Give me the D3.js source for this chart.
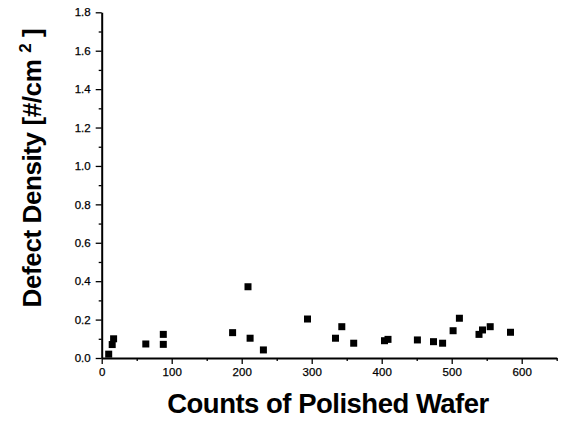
<!DOCTYPE html>
<html>
<head>
<meta charset="utf-8">
<script src="https://cdnjs.cloudflare.com/ajax/libs/d3/7.8.5/d3.min.js"></script>
<style>
body { margin: 0; background: #fff; }
text { font-family: "Liberation Sans", Arial, sans-serif; }
</style>
</head>
<body>
<script>
// wafer count vs defect density
var counts  = [10, 15, 17, 63, 88, 88, 187, 209, 212, 231, 294, 334, 343, 360, 404, 409, 451, 474, 487, 502, 511, 539, 544, 555, 584];
var density = [0.02, 0.07, 0.10, 0.073, 0.123, 0.071, 0.132, 0.371, 0.103, 0.042, 0.203, 0.103, 0.163, 0.077, 0.09, 0.097, 0.094, 0.085, 0.077, 0.142, 0.207, 0.123, 0.146, 0.163, 0.134];
var xTicks = [0, 100, 200, 300, 400, 500, 600];
var yTicks = [0.0, 0.2, 0.4, 0.6, 0.8, 1.0, 1.2, 1.4, 1.6, 1.8];

var data = counts.map(function (c, i) { return { count: c, density: density[i] }; });

var margin = { top: 12.3, right: 7.3, bottom: 64, left: 101.7 },
    width = 564 - margin.left - margin.right,
    height = 422 - margin.top - margin.bottom;

var svg = d3.select("body")
    .append("svg")
    .attr("width", 564)
    .attr("height", 422);

var g = svg.append("g").attr("transform", "translate(" + margin.left + "," + margin.top + ")");

var x = d3.scaleLinear().domain([0, 650]).range([0, width]),
    y = d3.scaleLinear().domain([0, 1.8]).range([height, 0]);

// minor ticks first
g.append("g")
    .attr("transform", "translate(0," + height + ")")
    .call(d3.axisBottom(x).tickValues(d3.range(50, 651, 100)).tickSize(3).tickFormat(""))
    .call(function (a) { a.select(".domain").remove(); });

g.append("g")
    .call(d3.axisLeft(y).tickValues(d3.range(0.1, 1.8, 0.2)).tickSize(3).tickFormat(""))
    .call(function (a) { a.select(".domain").remove(); });

var xAxis = g.append("g")
    .attr("transform", "translate(0," + height + ")")
    .call(d3.axisBottom(x).tickValues(xTicks).tickSize(6).tickSizeOuter(0).tickPadding(4).tickFormat(d3.format("d")));

var yAxis = g.append("g")
    .call(d3.axisLeft(y).tickValues(yTicks).tickSize(6).tickSizeOuter(0).tickPadding(5).tickFormat(d3.format(".1f")));

[xAxis, yAxis].forEach(function (a) {
    a.selectAll("text").attr("font-size", 11.5).attr("font-family", "Liberation Sans, Arial, sans-serif").attr("fill", "#000")
        .attr("stroke", "#000").attr("stroke-width", 0.25);
    a.select(".domain").attr("stroke-width", 2);
});
g.selectAll(".tick line").attr("stroke", "#000").attr("stroke-width", 1.3);

var s = 7;
g.selectAll(".pt")
    .data(data)
    .enter().append("rect")
    .attr("class", "pt")
    .attr("x", function (d) { return x(d.count) - s / 2; })
    .attr("y", function (d) { return y(d.density) - s / 2; })
    .attr("width", s)
    .attr("height", s)
    .attr("fill", "#000");

svg.append("text")
    .attr("x", 328)
    .attr("y", 413)
    .attr("text-anchor", "middle")
    .attr("font-size", 27.5)
    .attr("font-weight", "bold")
    .attr("letter-spacing", -0.5)
    .text("Counts of Polished Wafer");

var yt = svg.append("text")
    .attr("transform", "translate(41,168) rotate(-90)")
    .attr("text-anchor", "middle")
    .attr("font-size", 26)
    .attr("font-weight", "bold")
    .attr("letter-spacing", -0.4);
yt.append("tspan").text("Defect Density [#/cm ");
yt.append("tspan").attr("font-size", 17).attr("dy", -10).text("2");
yt.append("tspan").attr("dy", 10).text(" ]");
</script>
</body>
</html>
